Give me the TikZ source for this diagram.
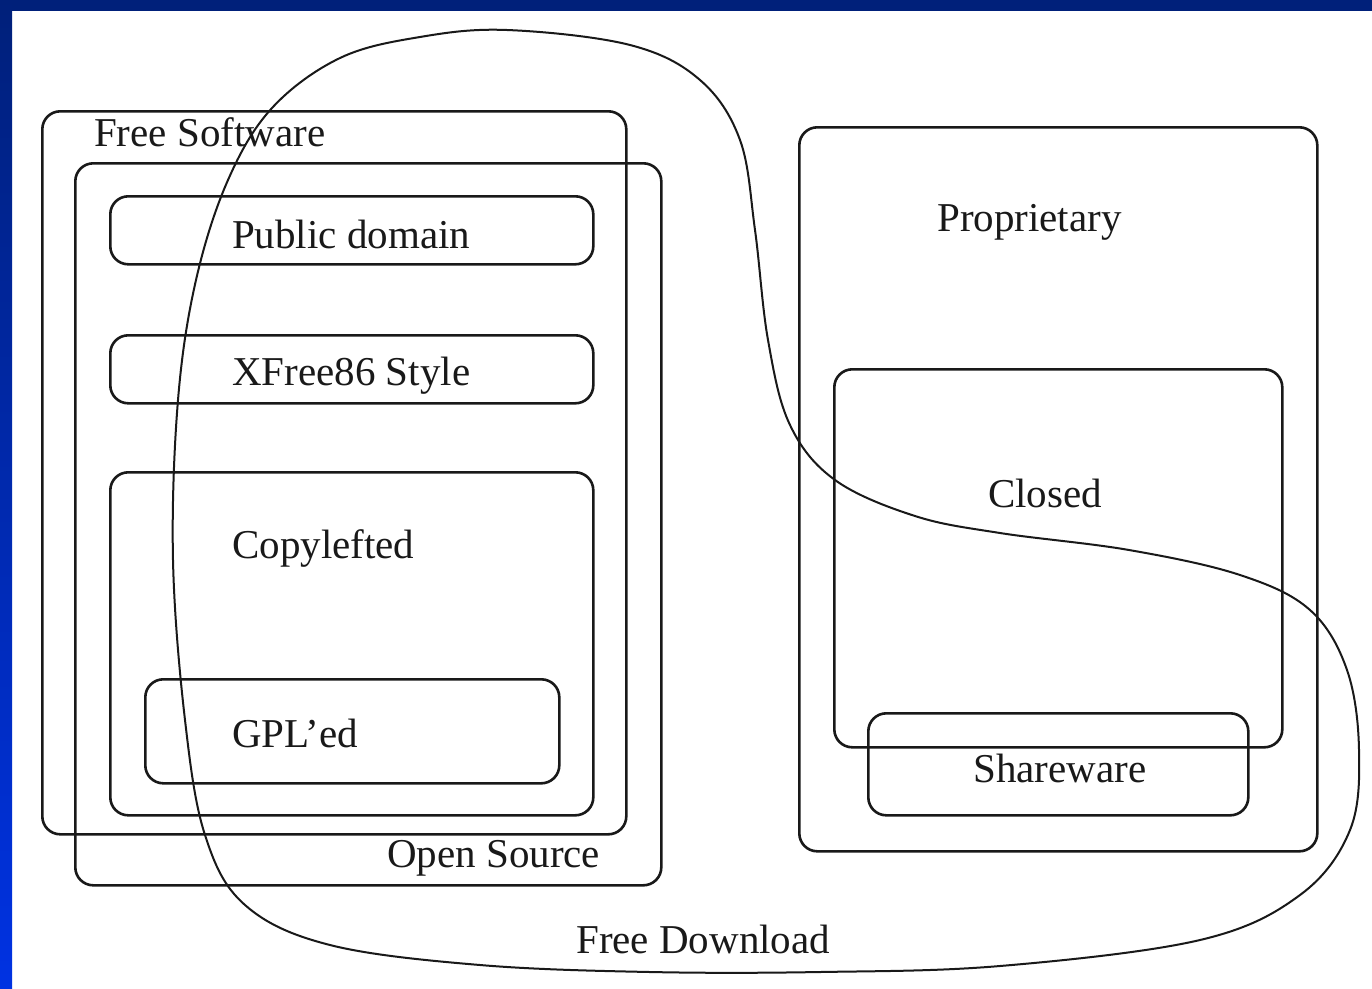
\documentclass[tikz,border=0pt]{standalone}
\usepackage{fontspec}
\setmainfont{Liberation Serif}
\definecolor{navyband}{RGB}{0,32,122}
\definecolor{brightband}{RGB}{0,50,226}
\begin{document}
\begin{tikzpicture}[x=1pt,y=-1pt,
  box/.style={draw=black!90, line width=2.6pt, rounded corners=18pt, rectangle, inner sep=0pt, anchor=north west},
  lbl/.style={inner sep=0pt, anchor=base west, font=\fontsize{41}{49}\selectfont, text=black!90},
  blob/.style={draw=black!90, line width=2pt}]
\useasboundingbox (0,0) rectangle (1372,988);
\fill[white] (0,0) rectangle (1372,988);
\fill[navyband] (0,0) rectangle (1372,11);
\shade[top color=navyband, bottom color=brightband] (0,0) rectangle (12,988);
% boxes
\node[box, minimum width=584pt, minimum height=723pt] (fs) at (41,110) {};
\node[box, minimum width=586pt, minimum height=722pt] (os) at (74,162) {};
\node[box, minimum width=483pt, minimum height=68pt] (pd) at (109,195) {};
\node[box, minimum width=483pt, minimum height=68pt] (xf) at (109,334) {};
\node[box, minimum width=483pt, minimum height=343pt] (cl) at (109,471) {};
\node[box, minimum width=414pt, minimum height=104pt] (gpl) at (144,678) {};
\node[box, minimum width=518pt, minimum height=724pt] (pr) at (798,126) {};
\node[box, minimum width=448pt, minimum height=378pt] (cs) at (833,368) {};
\node[box, minimum width=380pt, minimum height=102pt] (sw) at (867,712) {};
% free download curve
\draw[blob] plot[smooth cycle, tension=0.6] coordinates {
 (507,30) (630,45) (700,80) (740,140) (755,230) (768,340) (790,425) (835,480)
 (915,516) (1000,533) (1129,550) (1240,575) (1310,610) (1347,670) (1359,750)
 (1350,830) (1300,895) (1200,940) (1000,966) (820,972) (650,972) (480,965)
 (330,945) (245,905) (205,835) (185,720) (173,560) (178,400) (196,280)
 (228,180) (272,108) (340,58) (420,37)};
% labels
\node[lbl] (tfs) at (94,146) {Free Software};
\node[lbl] (tos) at (387,867) {Open Source};
\node[lbl] (tpd) at (232,248) {Public domain};
\node[lbl] (txf) at (232,385) {XFree86 Style};
\node[lbl] (tcl) at (232,558) {Copylefted};
\node[lbl] (tgpl) at (232,747) {GPL'ed};
\node[lbl] (tpr) at (937,231) {Proprietary};
\node[lbl] (tcs) at (988,507) {Closed};
\node[lbl] (tsw) at (973,782) {Shareware};
\node[lbl] (tfd) at (576,953) {Free Download};
\end{tikzpicture}
\end{document}
